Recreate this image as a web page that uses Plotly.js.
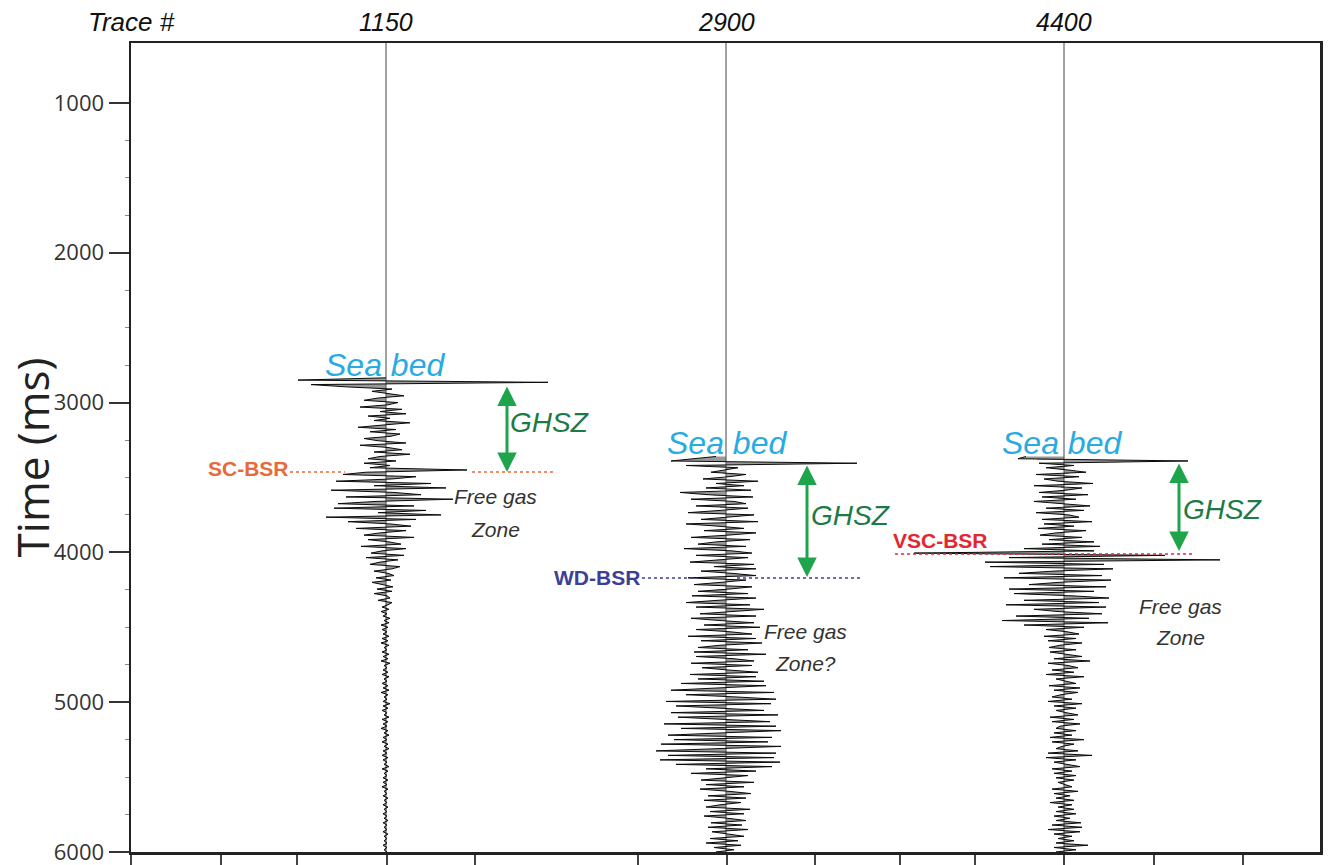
<!DOCTYPE html>
<html>
<head>
<meta charset="utf-8">
<script src="https://cdn.plot.ly/plotly-3.0.1.min.js"></script>
<style>html,body{margin:0;padding:0;background:#fff;}#chart{width:1328px;height:865px;}</style>
</head>
<body>
<div id="chart"></div>
<script>
// ---- data ----
const traceNumbers = ['1150', '2900', '4400'];
const tracePositions = [255, 595, 933];          // position of each trace baseline along the profile
const traceStartTimes = [2835, 3360, 3360];       // ms, first sample of each trace
const sampleInterval = 15;                        // ms between samples
const bsrNames = ['SC-BSR', 'WD-BSR', 'VSC-BSR'];
const bsrTimes = [3464, 4171, 4011];
const ghszTop = [2883, 3410, 3397];
const ghszBase = [3464, 4165, 3991];
const yTickVals = [1000, 2000, 3000, 4000, 5000, 6000];
const xTickVals = [0, 90, 166, 256, 344, 507, 596, 684, 769, 844, 933, 1023, 1112];

const amp1150 = [
  0, -88, 162, -75, -40,
  6, -14, 3, 18, -8, -22, 12, 2, -26, 16, -6, 20, -18, 4, -12, 24, -3, -28, 10, -16,
  14, 5, -22, -8, 20, -26, 2, 16, -12, 24, -6, -18, 10, -22, 4, -16,
  81, -20, -43, 30, 6, -50, 45, -12, 60, -55, 8, 35, -40, 67, -10, -48, 28, -52, 40, -8, 55, -60,
  30, -38, 4, 25, -30, 20, -6, -22, 28, -18, 3, 15, -25, 20, -4, -15, 18, -20, 12, -6, -16, 14,
  6, -12, 2, 8, -10, 5, -14, -3, 7, -9, 6, -12, 1, 4, -8, 6,
  2, -4, 3, -5, 1, -3, 4, -2, 3, -5, 2, -4, 1, -3, 3, -4, 2, -5, 3, -2,
  1, -4, 3, -3, 2, -5, 4, -2, 1, -3, 2, -4, 3, -2, 1, -4, 2, -3, 3, -5,
  2, -2, 1, -3, 4, -3, 2, -4, 1, -2, 3, -4, 2, -3, 1, -5, 2, -2, 3, -3,
  1, -4, 2, -2, 3, -3, 1, -4, 2, -3, 1, -2, 3, -4, 2, -2, 1, -3, 2, -3,
  1, -4, 2, -2, 1, -3, 2, -2, 1, -3, 2, -2, 1, -3, 1, -2, 2, -3, 1, -2,
  1, -3, 2, -2, 1, -2, 1, -3, 1, -2, 1, -2, 1, -1, 0
];
const amp2900 = [
  -10, -30, -55, 131, -40,
  12, -4, -15, 20, 3, -23, 32, -10, 18, -20,
  25, -46, -18, 27,
  -35, 8, 20, -30, 22, -6, -38, 28, 4, -25, 32, -40, -8, 18, -22, 30, 2, -35, 24, -10,
  -28, 20, -42, 6, 26, -30, 22, -4, -36, 28, -12, 30,
  -25, 6, 30, -38, 20, -5, -32, 26, 3, -28, 22, -34, 30, -8, -40, 24, -30, 38, 2, -26,
  30, -35, -6, 28, -22, 34, -30, 4, 26, -38,
  30, -25, 36, -6, -28, 22, -32, 40, -30, 8, 28, -35, 26, -24, 2, 32, -36, 30, -28, 38,
  -45, 40, -8, -55, 48, -40, 10, 50, -60, 45, -50, -12, 38, -55, 52, -48, 6, 44, -62, 50,
  -45, 55, -4, -58, 46, -52, 42, -65, 55, -20, -70, 50, -58, 48, -66,
  54, -50, 46, -20, 30, -35, 22, -4, -25, 28, -20, 18, -26, 3, 25, -18, 20, -22, 15, -6,
  -20, 24, -16, 18, -22, 2, 20, -15, 16, -18, 22, -14, 4, 18, -16, 12, -20, 15, -12, 8, -10, 4
];
const amp4400 = [
  -38, -46, 124, -25,
  10, -18, 4, 22, -28, 15, -20, -6, 29, -30, 18, 2, -25, 24, -22, 12, -30, -4, 26, -18,
  20, -28, 5, 15, -22, 28, -20, 10, -26, 22, -8, -24, 18, -15, 30, -22, 36,
  -40, 30, -150, 101, -55, 156, -79, 40,
  -74, 49, -10, -45, 38, -60, 47, -5, -35, 42, -55, 30, -50, 8, 45, -40, 35, -58, 42, -30,
  -6, 38, -48, 25, -62, 44, -40,
  20, -18, 3, 15, -20, 12, -16, 18, -4, -15,
  12, -14, 2, 18, -10, 26, -16, 4, 14, -12, 10, -18, 20, -8, 2, 12, -15, 16, -10, 14,
  -3, -12, 8, -16, 18, -10, 12, -8, 2, 14, -14, 10, -12, 16, -4, -8, 12, -10, 8, -14,
  20, -12, 10, -2, -8, 14, -16, 28, -18, 12, -10, 3, 16, -12, 8, -10, 12, -8, 10, -6,
  2, 8, -12, 14, -10, 6, -8, 10, -14, 8, -6, 10, -8, 12, -10, 6, -8, 17, -12, 18,
  -16, 16, -10, 8, -6, 10, -8, 24, -10, 12, -8, 6
];
const amplitudes = [amp1150, amp2900, amp4400];

// ---- build traces ----
const data = [];
amplitudes.forEach((amp, k) => {
  const pos = tracePositions[k];
  const t = amp.map((_, i) => traceStartTimes[k] + i * sampleInterval);
  data.push({
    x: [pos, pos], y: [t[0], t[t.length - 1]], mode: 'lines',
    line: {width: 0, color: 'rgba(0,0,0,0)'}, hoverinfo: 'skip', showlegend: false
  });
  data.push({
    x: amp.map(a => pos + a), y: t, mode: 'lines',
    line: {color: '#0a0a0a', width: 1},
    fill: 'tonextx', fillcolor: 'rgba(85,85,85,0.6)',
    name: 'Trace ' + traceNumbers[k], showlegend: false
  });
});

const arial = '"Liberation Sans", Arial, sans-serif';

const shapes = [];
tracePositions.forEach(p => shapes.push({
  type: 'line', xref: 'x', yref: 'y', x0: p, x1: p, y0: 600, y1: 6000,
  line: {color: '#444', width: 1}, layer: 'below'
}));
// BSR dotted lines
const bsrColors = ['#e8693a', '#3d3f96', '#e3262f'];
const bsrSegments = [[[159, 214], [341, 422]], [[511, 566], [606, 732]], [[764, 1062]]];
bsrSegments.forEach((segs, k) => segs.forEach(s => shapes.push({
  type: 'line', xref: 'x', yref: 'y', x0: s[0], x1: s[1], y0: bsrTimes[k], y1: bsrTimes[k],
  line: {color: bsrColors[k], width: 1.5, dash: 'dot'}
})));

const annotations = [];
annotations.push({xref: 'x', yref: 'paper', x: 0, y: 1.026, yanchor: 'middle', text: 'Trace #', showarrow: false,
  font: {family: arial, size: 26, color: '#111', style: 'italic'}});
traceNumbers.forEach((n, k) => annotations.push({xref: 'x', yref: 'paper', x: tracePositions[k], y: 1.026,
  yanchor: 'middle', text: n, showarrow: false, font: {family: arial, size: 25, color: '#111', style: 'italic'}}));

// y-axis title (placed as a rotated annotation to match the reference position)
annotations.push({xref: 'paper', yref: 'y', x: -0.083, y: 3364, xanchor: 'center', yanchor: 'middle',
  text: 'Time (ms)', textangle: -90, showarrow: false, borderpad: 0,
  font: {family: '"Open Sans", sans-serif', size: 44, color: '#222'}});

// Sea bed labels
const seaX = [254, 596, 931];
const seaT = [2750, 3270, 3270];
seaX.forEach((x, k) => annotations.push({x: x, y: seaT[k], text: 'Sea bed', showarrow: false,
  font: {family: arial, size: 32, color: '#29abe2', style: 'italic'}}));

// GHSZ arrows and labels
const arrowX = [376, 676, 1048];
const ghszX = [418, 719, 1091];
const ghszT = [3130, 3751, 3717];
arrowX.forEach((x, k) => {
  annotations.push({x: x, y: ghszBase[k], ax: x, ay: ghszTop[k], axref: 'x', ayref: 'y', text: '',
    showarrow: true, arrowside: 'end+start', arrowhead: 2, startarrowhead: 2, arrowsize: 1.3, startarrowsize: 1.3,
    arrowwidth: 3, arrowcolor: '#1ea54c', standoff: 0, startstandoff: 0});
  annotations.push({x: ghszX[k], y: ghszT[k], text: 'GHSZ', showarrow: false,
    font: {family: arial, size: 28, color: '#1b7a45', style: 'italic'}});
});

// BSR labels
const bsrLabelX = [117, 466, 809];
const bsrLabelT = [3437, 4165, 3918];
bsrNames.forEach((n, k) => annotations.push({x: bsrLabelX[k], y: bsrLabelT[k], text: '<b>' + n + '</b>',
  showarrow: false, font: {family: arial, size: 21, color: bsrColors[k]}}));

// Free gas zone labels
const fgX = [364, 674, 1049];
const fgT1 = [3630, 4530, 4360];
const fgT2 = [3850, 4740, 4570];
const fgText2 = ['Zone', 'Zone?', 'Zone'];
fgX.forEach((x, k) => {
  annotations.push({x: x, y: fgT1[k], text: 'Free gas', showarrow: false,
    font: {family: arial, size: 21, color: '#333', style: 'italic'}});
  annotations.push({x: x, y: fgT2[k], text: fgText2[k], showarrow: false,
    font: {family: arial, size: 21, color: '#333', style: 'italic'}});
});

const layout = {
  width: 1328, height: 865,
  margin: {l: 131, r: 8, t: 43, b: 13},
  paper_bgcolor: '#fff', plot_bgcolor: '#fff',
  showlegend: false,
  xaxis: {
    range: [0, 1189], showgrid: false, zeroline: false,
    showline: true, mirror: true, linecolor: '#222', linewidth: 2.5,
    tickmode: 'array', tickvals: xTickVals, showticklabels: false,
    ticks: 'outside', ticklen: 10, tickwidth: 1.2, tickcolor: '#444'
  },
  yaxis: {
    range: [6000, 600], showgrid: false, zeroline: false,
    showline: true, mirror: true, linecolor: '#222', linewidth: 2.5,
    tickmode: 'array', tickvals: yTickVals, ticklabeloverflow: 'allow',
    ticks: 'outside', ticklen: 20, tickwidth: 2, tickcolor: '#333',
    tickfont: {family: '"Open Sans", sans-serif', size: 22, color: '#333'},
    minor: {tickvals: [1250,1500,1750,2250,2500,2750,3250,3500,3750,4250,4500,4750,5250,5500,5750], ticks: 'outside', ticklen: 4, tickwidth: 1, tickcolor: '#888'}
  },
  shapes: shapes,
  annotations: annotations
};

Plotly.newPlot('chart', data, layout, {displayModeBar: false, staticPlot: true});
</script>
</body>
</html>
